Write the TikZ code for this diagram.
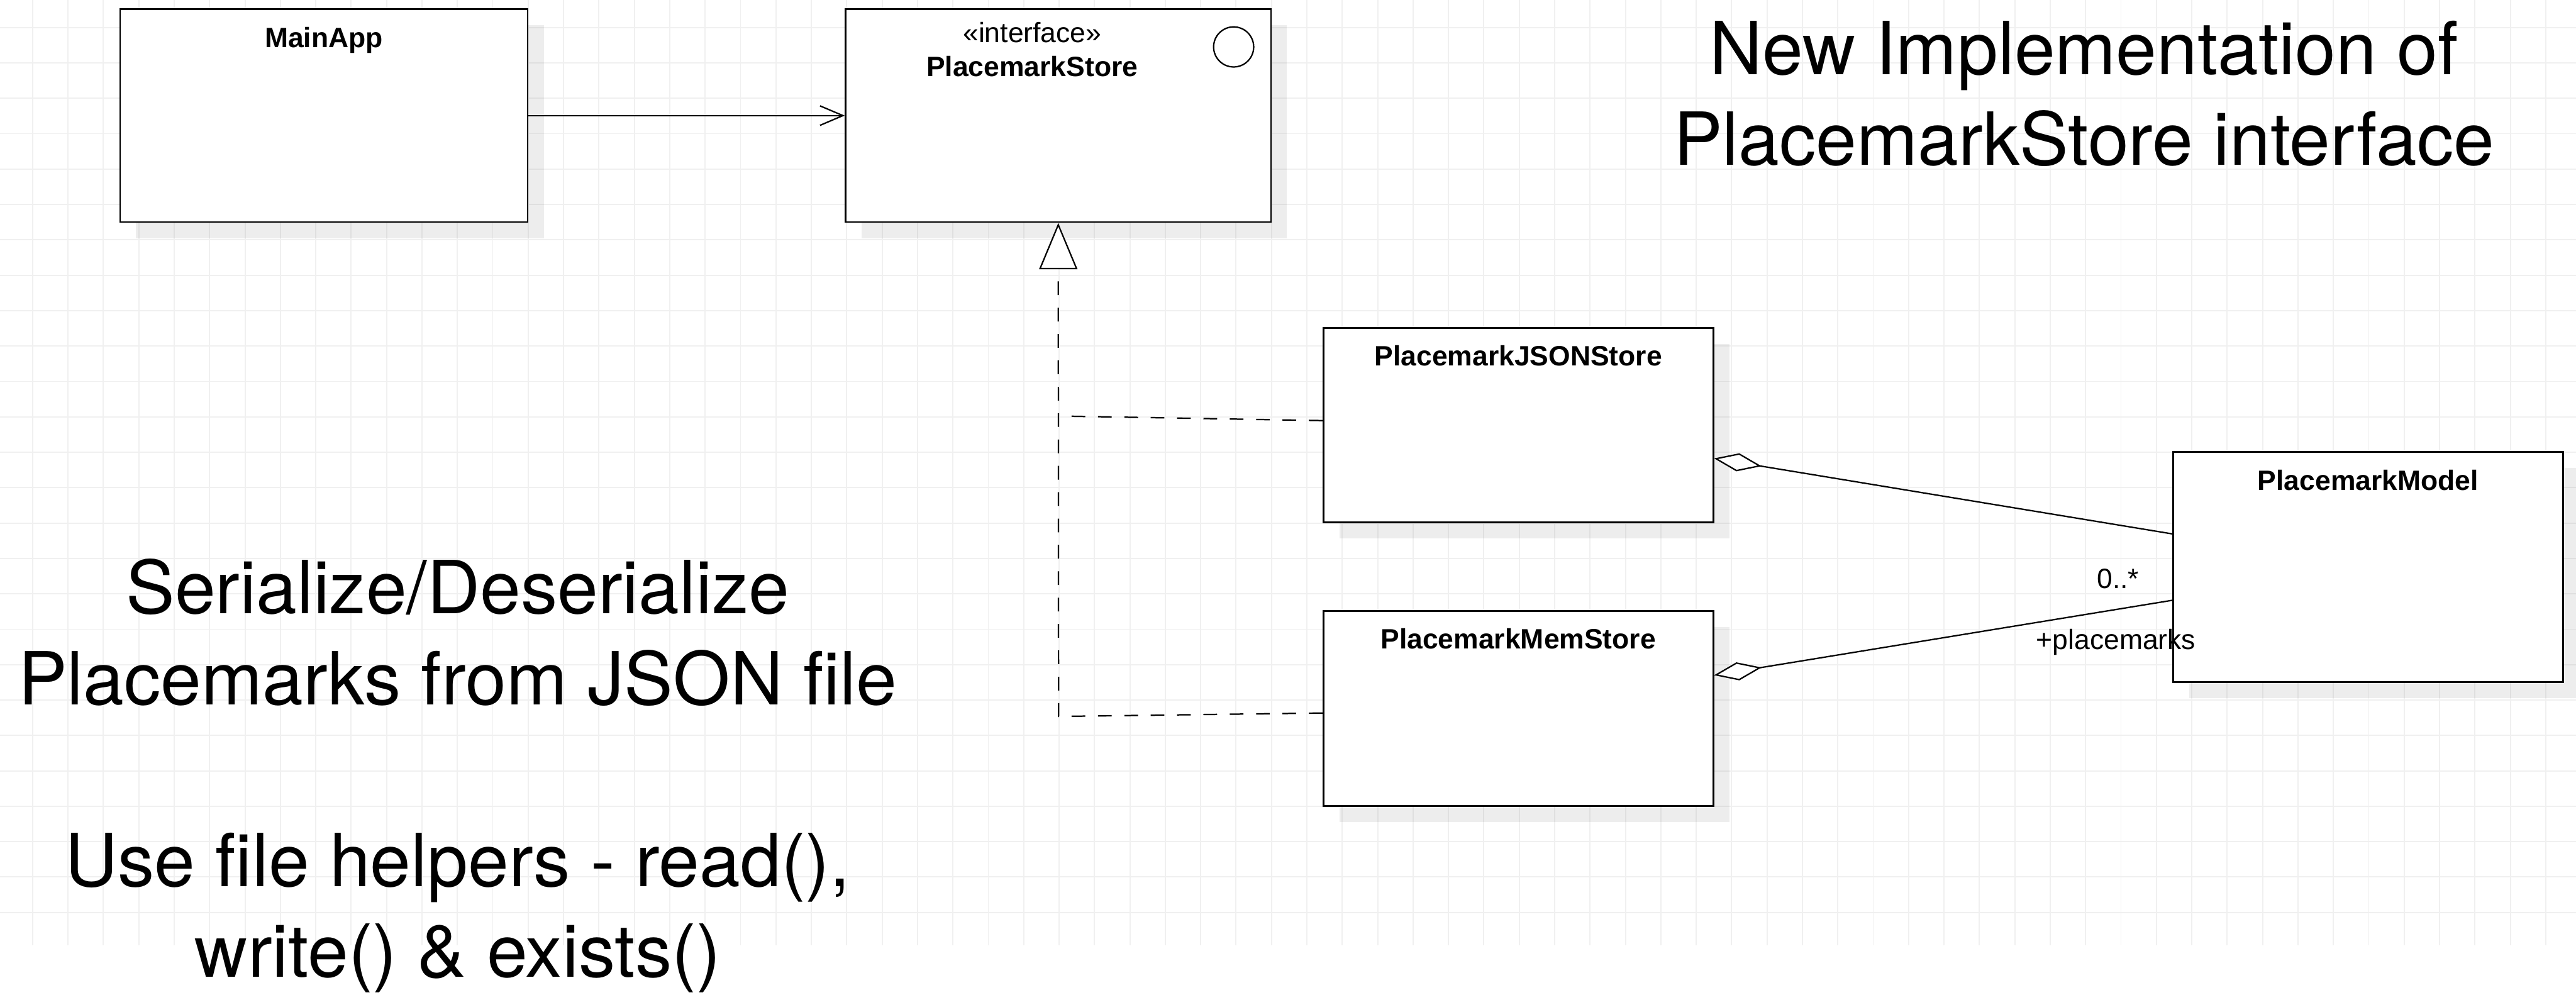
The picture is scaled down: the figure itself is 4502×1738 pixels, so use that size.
\documentclass[tikz,border=0pt]{standalone}
\usepackage{fontspec}
\setmainfont{Liberation Sans}
\newfontfamily\notefont{TeX Gyre Heros}
\usetikzlibrary{arrows.meta,shadows}

\begin{document}
\begin{tikzpicture}[x=0.01cm,y=-0.01cm,
    gridline/.style={draw=black!6,line width=0.6pt},
    classbox/.style={draw,line width=0.85pt,fill=white,inner sep=0pt,
      drop shadow={shadow xshift=0.28cm,shadow yshift=-0.28cm,fill=black,opacity=0.07}},
    boxtitle/.style={anchor=base,inner sep=0pt,font=\fontsize{13.9}{16.7}\selectfont\bfseries},
    stereo/.style={anchor=base,inner sep=0pt,font=\fontsize{13.9}{16.7}\selectfont},
    endlabel/.style={inner sep=0pt,font=\fontsize{13.9}{16.7}\selectfont},
    note/.style={align=center,inner sep=0pt,anchor=base,
      font=\notefont\fontsize{36.4}{45.2}\selectfont},
    uses/.style={line width=0.7pt,-{Straight Barb[length=11.4pt,width=9.7pt]}},
    realizeline/.style={line width=0.7pt,dash pattern=on 6.8pt off 6.3pt},
    realize/.style={realizeline,-{Triangle[open,length=23pt,width=19pt,fill=white]}},
    aggr/.style={line width=0.7pt,-{Diamond[open,length=23.9pt,width=9.1pt,fill=white]}}]

		\useasboundingbox (0,0) rectangle (4502,1738);
		\fill[white] (0,0) rectangle (4502,1738);

		% grid
		\foreach \gx in {0,...,71}
			\draw[gridline] ({57+61.86*\gx},0) -- ({57+61.86*\gx},1652);
		\foreach \gy in {0,...,25}
			\draw[gridline] (0,{48+61.86*\gy}) -- (4502,{48+61.86*\gy});

		% classes
		\node[classbox,minimum width=7.12cm,minimum height=3.72cm] (mainapp) at (566,202) {};
		\node[boxtitle] (mainappname) at (566,83) {MainApp};

		\node[classbox,minimum width=7.43cm,minimum height=3.72cm] (store) at (1849.5,202) {};
		\node[stereo] (storestereo) at (1804,74) {«interface»};
		\node[boxtitle] (storename) at (1804,133) {PlacemarkStore};
		\node[draw,circle,line width=0.7pt,minimum size=0.7cm,inner sep=0pt] (storeicon) at (2156,82) {};

		\node[classbox,minimum width=6.81cm,minimum height=3.4cm] (json) at (2653.5,743) {};
		\node[boxtitle] (jsonname) at (2653.5,639) {PlacemarkJSONStore};

		\node[classbox,minimum width=6.81cm,minimum height=3.4cm] (mem) at (2653.5,1238) {};
		\node[boxtitle] (memname) at (2653.5,1134) {PlacemarkMemStore};

		\node[classbox,minimum width=6.81cm,minimum height=4.02cm] (model) at (4138.5,991) {};
		\node[boxtitle] (modelname) at (4138.5,857) {PlacemarkModel};

		% relations
		\draw[uses] (mainapp) -- (store);

		\coordinate (jsonbend) at (1850,727);
		\coordinate (membend) at (1850,1252);
		\draw[realizeline] ([yshift=0.08cm]json.west) -- (jsonbend);
		\draw[realize] ([yshift=-0.08cm]mem.west) -- (membend) -- (store.south);

		\draw[aggr] ([yshift=0.58cm]model.west) -- ([yshift=-0.58cm]json.east);
		\draw[aggr] ([yshift=-0.58cm]model.west) -- ([yshift=0.58cm]mem.east);
		\node[endlabel,anchor=base east] (mult) at (3739,1028) {0..*};
		\node[endlabel,anchor=base west] (rolename) at (3558,1135) {+placemarks};

		% notes (base = last line)
		\node[note] (titlenote) at (3642,289) {New Implementation of\\PlacemarkStore interface};
		\node[note] (jsonnote) at (800,1708) {Serialize/Deserialize\\Placemarks from JSON file\\[45.2pt]Use file helpers - read(),\\write() \& exists()};

\end{tikzpicture}
\end{document}
